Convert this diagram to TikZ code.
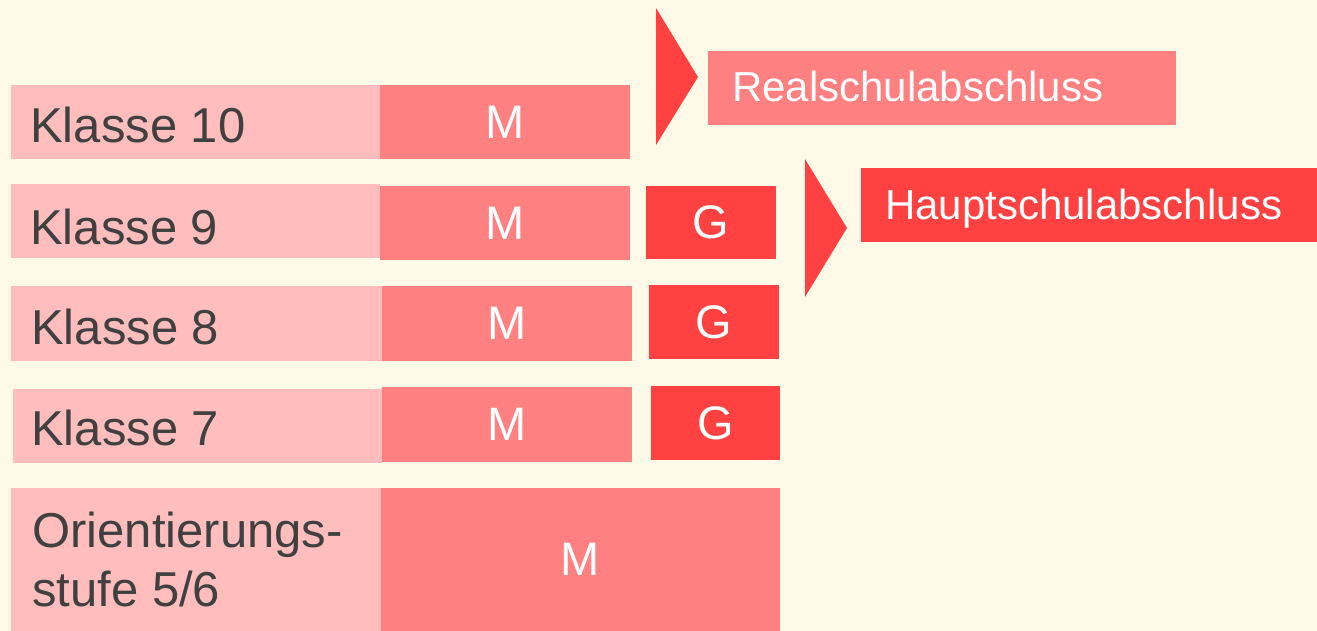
\documentclass[tikz,border=0pt]{standalone}
\usepackage{fontspec}
\setmainfont{Liberation Sans}
\definecolor{bgc}{RGB}{255,250,232}
\definecolor{lightp}{RGB}{255,189,189}
\definecolor{midp}{RGB}{255,128,128}
\definecolor{redp}{RGB}{255,65,65}
\definecolor{txt}{RGB}{64,64,64}
\tikzset{
  box/.style={rectangle, inner sep=0pt, outer sep=0pt, anchor=north west},
  sz/.style 2 args={minimum width=#1pt, minimum height=#2pt},
  lbox/.style={box, fill=lightp},
  mbox/.style={box, fill=midp, text=white, font=\fontsize{47}{56}\selectfont},
  gbox/.style={box, fill=redp, text=white, font=\fontsize{47}{56}\selectfont},
  rbox/.style={box, fill=midp},
  hbox/.style={box, fill=redp},
  lbl/.style={anchor=base west, inner sep=0pt, text=txt, font=\fontsize{49}{59}\selectfont},
  wlbl/.style={anchor=base west, inner sep=0pt, text=white, font=\fontsize{42}{50}\selectfont},
  chevron/.style={fill=redp}
}
\begin{document}
\begin{tikzpicture}[x=1pt,y=-1pt]
\useasboundingbox (0,0) rectangle (1317,631);
\fill[bgc] (0,0) rectangle (1317,631);

% left label boxes
\node[lbox, sz={369}{74}] (k10) at (11,85) {};
\node[lbox, sz={369}{74}] (k9) at (11,184) {};
\node[lbox, sz={371}{75}] (k8) at (11,286) {};
\node[lbox, sz={369}{74}] (k7) at (13,389) {};
\node[lbox, sz={370}{143}] (k56) at (11,488) {};

% M boxes
\node[mbox, sz={250}{74}] (m10) at (380,85) {M};
\node[mbox, sz={250}{74}] (m9) at (380,186) {M};
\node[mbox, sz={250}{75}] (m8) at (382,286) {M};
\node[mbox, sz={250}{75}] (m7) at (382,387) {M};
\node[mbox, sz={399}{143}] (m56) at (381,488) {M};

% G boxes
\node[gbox, sz={130}{73}] (g9) at (646,186) {G};
\node[gbox, sz={130}{74}] (g8) at (649,285) {G};
\node[gbox, sz={129}{74}] (g7) at (651,386) {G};

% labels
\node[lbl] (t10) at (30,143) {Klasse 10};
\node[lbl] (t9) at (30,244) {Klasse 9};
\node[lbl] (t8) at (31,344) {Klasse 8};
\node[lbl] (t7) at (31,445) {Klasse 7};
\node[lbl] (t56a) at (32,547) {Orientierungs-};
\node[lbl] (t56b) at (32,606) {stufe 5/6};

% chevrons
\fill[chevron] (656,8) -- (698,77) -- (656,145) -- cycle;
\fill[chevron] (805,159) -- (847,228) -- (805,297) -- cycle;

% outcome boxes
\node[rbox, sz={468}{74}] (real) at (708,51) {};
\node[hbox, sz={456}{74}] (haupt) at (861,168) {};
\node[wlbl] (treal) at (732,102) {Realschulabschluss};
\node[wlbl] (thaupt) at (885,220) {Hauptschulabschluss};
\end{tikzpicture}
\end{document}
